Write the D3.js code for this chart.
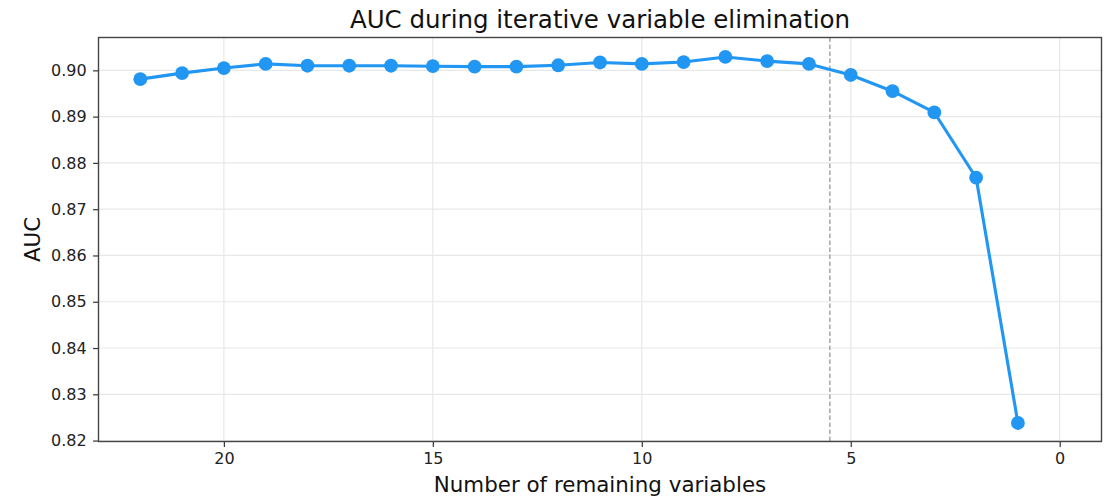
<!DOCTYPE html>
<html>
<head>
<meta charset="utf-8">
<script src="https://cdn.jsdelivr.net/npm/d3@7"></script>
<style>
  html, body { margin: 0; padding: 0; background: #fff; }
  svg { display: block; font-family: "DejaVu Sans", sans-serif; }
</style>
</head>
<body>
<svg id="chart" width="1107" height="497"></svg>
<script>
// Number of variables left after each elimination step
const remaining = [22, 21, 20, 19, 18, 17, 16, 15, 14, 13, 12, 11, 10, 9, 8, 7, 6, 5, 4, 3, 2, 1];
// Cross-validated AUC at each step
const auc = [0.8981, 0.8994, 0.9005, 0.9014, 0.9010, 0.9010, 0.9010, 0.9009, 0.9008, 0.9008,
             0.9011, 0.9017, 0.9014, 0.9018, 0.9029, 0.9020, 0.9014, 0.8990, 0.8955, 0.8909,
             0.8768, 0.8238];
const xTicks = [20, 15, 10, 5, 0];
const yTicks = [0.82, 0.83, 0.84, 0.85, 0.86, 0.87, 0.88, 0.89, 0.90];
const cutoff = 5.5;

const svg = d3.select("#chart");
const m = { left: 98.5, right: 1101.5, top: 37.5, bottom: 441.5 };

const x = d3.scaleLinear().domain([23, -1]).range([m.left, m.right]);
const y = d3.scaleLinear().domain([0.8198, 0.9071]).range([m.bottom, m.top]);

const gridColor = "#e8e8e8";
const g = svg.append("g");

// grid
g.append("g").selectAll("line").data(xTicks).join("line")
  .attr("x1", d => x(d)).attr("x2", d => x(d))
  .attr("y1", m.top).attr("y2", m.bottom)
  .attr("stroke", gridColor).attr("stroke-width", 1.2);
g.append("g").selectAll("line").data(yTicks).join("line")
  .attr("y1", d => y(d)).attr("y2", d => y(d))
  .attr("x1", m.left).attr("x2", m.right)
  .attr("stroke", gridColor).attr("stroke-width", 1.2);

// selected cut-off
g.append("line")
  .attr("x1", x(cutoff)).attr("x2", x(cutoff))
  .attr("y1", m.top).attr("y2", m.bottom)
  .attr("stroke", "#999").attr("stroke-width", 1.3)
  .attr("stroke-dasharray", "4.5,2.5");

// axes
const xAxis = d3.axisBottom(x).tickValues(xTicks).tickFormat(d3.format("d")).tickSize(5.4).tickPadding(5.4);
const yAxis = d3.axisLeft(y).tickValues(yTicks).tickFormat(d3.format(".2f")).tickSize(5.4).tickPadding(6.5);

const ax = g.append("g").attr("transform", `translate(0,${m.bottom})`).call(xAxis);
const ay = g.append("g").attr("transform", `translate(${m.left},0)`).call(yAxis);
[ax, ay].forEach(a => {
  a.select(".domain").remove();
  a.selectAll(".tick line").attr("stroke", "#333").attr("stroke-width", 1.2);
  a.selectAll(".tick text").attr("fill", "#222").style("font-size", "16px")
    .style("font-family", "DejaVu Sans, sans-serif");
});

// frame
g.append("rect")
  .attr("x", m.left).attr("y", m.top)
  .attr("width", m.right - m.left).attr("height", m.bottom - m.top)
  .attr("fill", "none").attr("stroke", "#444").attr("stroke-width", 1.4);

// series
const pts = remaining.map((r, i) => [r, auc[i]]);
const line = d3.line().x(d => x(d[0])).y(d => y(d[1]));
g.append("path").datum(pts)
  .attr("d", line).attr("fill", "none")
  .attr("stroke", "#2196F3").attr("stroke-width", 3.1)
  .attr("stroke-linejoin", "round");
g.append("g").selectAll("circle").data(pts).join("circle")
  .attr("cx", d => x(d[0])).attr("cy", d => y(d[1]))
  .attr("r", 6.9).attr("fill", "#2196F3");

// labels
svg.append("text").attr("x", (m.left + m.right) / 2).attr("y", 27.5)
  .attr("text-anchor", "middle").attr("fill", "#111")
  .style("font-size", "24.5px")
  .text("AUC during iterative variable elimination");
svg.append("text").attr("x", (m.left + m.right) / 2).attr("y", 492)
  .attr("text-anchor", "middle").attr("fill", "#111")
  .style("font-size", "21.4px")
  .text("Number of remaining variables");
svg.append("text")
  .attr("transform", `translate(39.5,${(m.top + m.bottom) / 2}) rotate(-90)`)
  .attr("text-anchor", "middle").attr("fill", "#111")
  .style("font-size", "21.4px")
  .text("AUC");
</script>
</body>
</html>
